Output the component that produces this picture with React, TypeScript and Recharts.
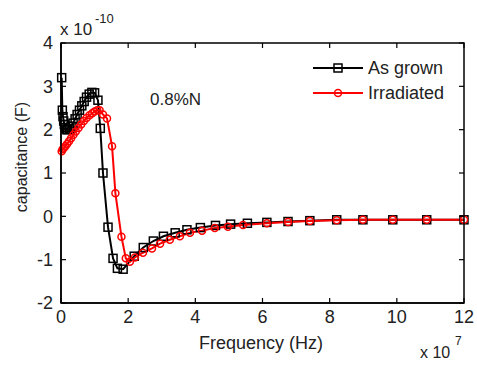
import React from "react";
import { LineChart, Line, XAxis, YAxis } from "recharts";

// frequency in units of 1e7 Hz, capacitance in units of 1e-10 F
const grownFreq = [
  0.02, 0.04, 0.06, 0.08, 0.1, 0.13, 0.16, 0.2, 0.25, 0.3, 0.36, 0.42, 0.48,
  0.55, 0.62, 0.69, 0.76, 0.84, 0.92, 1.0, 1.1, 1.17, 1.25, 1.4, 1.55, 1.68,
  1.85, 2.18, 2.45, 2.75, 3.05, 3.4, 3.75, 4.15, 4.6, 5.05, 5.55, 6.13, 6.76,
  7.41, 8.21, 8.99, 9.88, 10.89, 12.0,
];
const grownCap = [
  3.2, 2.45, 2.3, 2.2, 2.12, 2.05, 2.0, 2.0, 2.02, 2.08, 2.15, 2.25, 2.35,
  2.45, 2.55, 2.65, 2.75, 2.82, 2.86, 2.85, 2.68, 2.03, 1.0, -0.25, -0.97,
  -1.2, -1.22, -0.92, -0.72, -0.57, -0.46, -0.38, -0.31, -0.26, -0.21, -0.18,
  -0.16, -0.14, -0.12, -0.1, -0.08, -0.08, -0.08, -0.08, -0.08,
];

const irradFreq = [
  0.02, 0.05, 0.09, 0.13, 0.18, 0.24, 0.3, 0.37, 0.44, 0.52, 0.6, 0.68, 0.76,
  0.85, 0.93, 1.0, 1.08, 1.15, 1.25, 1.37, 1.52, 1.62, 1.8, 1.93, 2.05, 2.2,
  2.44, 2.71, 2.95, 3.24, 3.54, 3.84, 4.2, 4.58, 4.97, 5.42, 6.13, 6.76, 7.41,
  8.21, 8.99, 9.88, 10.89, 12.0,
];
const irradCap = [
  1.5, 1.55, 1.58, 1.62, 1.67, 1.73, 1.8, 1.88, 1.96, 2.04, 2.12, 2.2, 2.27,
  2.33, 2.38, 2.42, 2.45, 2.45, 2.35, 2.26, 1.62, 0.53, -0.47, -0.97, -1.05,
  -0.95, -0.84, -0.74, -0.63, -0.54, -0.46, -0.38, -0.33, -0.27, -0.24, -0.2,
  -0.16, -0.13, -0.11, -0.09, -0.08, -0.08, -0.08, -0.08,
];

const xTicks = [0, 2, 4, 6, 8, 10, 12];
const yTicks = [-2, -1, 0, 1, 2, 3, 4];
const X_DOMAIN = [0, 12];
const Y_DOMAIN = [-2, 4];

const grownData = grownFreq.map((f, i) => ({ f, c: grownCap[i] }));
const irradData = irradFreq.map((f, i) => ({ f, c: irradCap[i] }));

const W = 477;
const H = 365;
const MARGIN = { top: 43, right: 13, bottom: 32, left: 21 };
const Y_AXIS_W = 40;
const X_AXIS_H = 30;
// plot box that follows from the margins and axis sizes above
const PL = MARGIN.left + Y_AXIS_W;
const PR = W - MARGIN.right;
const PT = MARGIN.top;
const PB = H - MARGIN.bottom - X_AXIS_H;
const TICK = 5;

const FONT = '"Liberation Sans", Arial, sans-serif';
const TXT = "#222";

const SquareDot = (props: any) => {
  const { cx, cy, index } = props;
  if (cx == null || cy == null) return <g key={index} />;
  return (
    <rect
      key={index}
      x={cx - 4}
      y={cy - 4}
      width={8}
      height={8}
      fill="none"
      stroke="#000"
      strokeWidth={1.5}
    />
  );
};

const CircleDot = (props: any) => {
  const { cx, cy, index } = props;
  if (cx == null || cy == null) return <g key={index} />;
  return (
    <circle
      key={index}
      cx={cx}
      cy={cy}
      r={3.5}
      fill="none"
      stroke="#ff0000"
      strokeWidth={1.5}
    />
  );
};

const tickStyle = { fontSize: 18, fontFamily: FONT, fill: TXT };

// box + inward ticks (matlab style)
const Frame = () => {
  const sx = (v: number) =>
    PL + ((v - X_DOMAIN[0]) / (X_DOMAIN[1] - X_DOMAIN[0])) * (PR - PL);
  const sy = (v: number) =>
    PB - ((v - Y_DOMAIN[0]) / (Y_DOMAIN[1] - Y_DOMAIN[0])) * (PB - PT);
  return (
    <g stroke="#000" fill="none">
      <rect x={PL} y={PT} width={PR - PL} height={PB - PT} strokeWidth={1.5} />
      {xTicks.map((t) => (
        <g key={"x" + t} strokeWidth={1.2}>
          <line x1={sx(t)} y1={PB} x2={sx(t)} y2={PB - TICK} />
          <line x1={sx(t)} y1={PT} x2={sx(t)} y2={PT + TICK} />
        </g>
      ))}
      {yTicks.map((t) => (
        <g key={"y" + t} strokeWidth={1.2}>
          <line x1={PL} y1={sy(t)} x2={PL + TICK} y2={sy(t)} />
          <line x1={PR} y1={sy(t)} x2={PR - TICK} y2={sy(t)} />
        </g>
      ))}
    </g>
  );
};

export default function App() {
  return (
    <div
      style={{
        position: "absolute",
        left: 0,
        top: 0,
        width: W,
        height: H,
      }}
    >
      <LineChart width={W} height={H} margin={MARGIN}>
        <XAxis
          dataKey="f"
          type="number"
          domain={X_DOMAIN}
          ticks={xTicks}
          height={X_AXIS_H}
          stroke="#000"
          strokeWidth={1.5}
          tickLine={false}
          tickSize={0}
          tickMargin={7}
          tick={tickStyle}
        />
        <YAxis
          type="number"
          domain={Y_DOMAIN}
          ticks={yTicks}
          width={Y_AXIS_W}
          stroke="#000"
          strokeWidth={1.5}
          tickLine={false}
          tickSize={0}
          tickMargin={8}
          tick={tickStyle}
        />
        <Line
          data={grownData}
          dataKey="c"
          name="As grown"
          type="linear"
          stroke="#000"
          strokeWidth={2}
          dot={SquareDot}
          activeDot={false}
          isAnimationActive={false}
        />
        <Line
          data={irradData}
          dataKey="c"
          name="Irradiated"
          type="linear"
          stroke="#ff0000"
          strokeWidth={2}
          dot={CircleDot}
          activeDot={false}
          isAnimationActive={false}
        />
      </LineChart>
      <svg
        width={W}
        height={H}
        style={{ position: "absolute", left: 0, top: 0, pointerEvents: "none" }}
        fontFamily={FONT}
        fill={TXT}
      >
        <Frame />
        {/* y exponent */}
        <text x={60} y={35} fontSize={17}>
          x 10
        </text>
        <text x={95} y={23} fontSize={13}>
          -10
        </text>
        {/* annotation */}
        <text x={150} y={105} fontSize={17}>
          0.8%N
        </text>
        {/* axis labels */}
        <text
          x={0}
          y={0}
          fontSize={16}
          textAnchor="middle"
          transform="translate(27 157) rotate(-90)"
        >
          capacitance (F)
        </text>
        <text x={261} y={349} fontSize={18} textAnchor="middle">
          Frequency  (Hz)
        </text>
        {/* x exponent */}
        <text x={420} y={358} fontSize={16}>
          x 10
        </text>
        <text x={455} y={345} fontSize={12}>
          7
        </text>
        {/* legend */}
        <line x1={313} y1={68} x2={363} y2={68} stroke="#000" strokeWidth={2} />
        <rect
          x={334}
          y={64}
          width={8}
          height={8}
          fill="none"
          stroke="#000"
          strokeWidth={1.5}
        />
        <text x={368} y={74} fontSize={18}>
          As grown
        </text>
        <line
          x1={313}
          y1={93}
          x2={363}
          y2={93}
          stroke="#ff0000"
          strokeWidth={2}
        />
        <circle
          cx={338}
          cy={93}
          r={3.5}
          fill="none"
          stroke="#ff0000"
          strokeWidth={1.5}
        />
        <text x={368} y={99} fontSize={18}>
          Irradiated
        </text>
      </svg>
    </div>
  );
}
